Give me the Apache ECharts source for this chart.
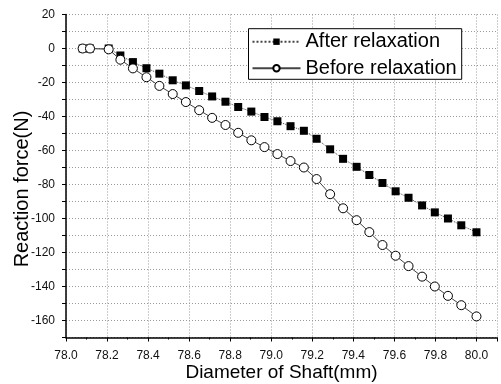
<!DOCTYPE html>
<html>
<head>
<meta charset="utf-8">
<script src="https://cdn.jsdelivr.net/npm/echarts@6/dist/echarts.min.js"></script>
<style>
html,body{margin:0;padding:0;background:#fff;}
#chart{width:501px;height:384px;}
</style>
</head>
<body>
<div id="chart"></div>
<script>
// Diameter of shaft (mm), shared by both series
var diameters = [78.081, 78.117, 78.208, 78.265, 78.326, 78.392, 78.455, 78.520, 78.584, 78.649,
  78.712, 78.777, 78.839, 78.903, 78.967, 79.030, 79.094, 79.159, 79.221, 79.287,
  79.350, 79.416, 79.478, 79.542, 79.606, 79.669, 79.735, 79.797, 79.861, 79.926, 80.000];
// Reaction force (N) after relaxation
var afterValues = [0, 0, 0, -4.1, -8.0, -11.6, -14.8, -18.7, -21.7, -25.0,
  -28.2, -31.3, -34.4, -37.1, -40.3, -42.8, -45.7, -48.4, -53.1, -59.3,
  -64.9, -69.6, -74.4, -79.1, -84.0, -87.8, -92.3, -96.4, -100.0, -104.0, -108.1];
// Reaction force (N) before relaxation
var beforeValues = [0, 0, -0.5, -6.6, -11.7, -16.9, -22.0, -26.8, -31.5, -36.3,
  -40.8, -45.0, -49.6, -54.0, -58.0, -62.1, -66.2, -70.0, -76.8, -85.7,
  -94.0, -101.0, -108.0, -115.6, -121.9, -128.0, -134.2, -140.0, -145.5, -151.0, -157.6];
var seriesNames = ['After relaxation', 'Before relaxation'];
var xAxisTitle = 'Diameter of Shaft(mm)';
var yAxisTitle = 'Reaction force(N)';

function pairs(xs, ys) { return xs.map(function (x, i) { return [x, ys[i]]; }); }

var font = "'Liberation Sans', Arial, sans-serif";
var gridLine = { show: true, lineStyle: { color: '#9a9a9a', type: [1, 2], width: 1 } };

var chart = echarts.init(document.getElementById('chart'), null, { renderer: 'canvas' });
chart.setOption({
  animation: false,
  backgroundColor: '#fff',
  grid: { left: 66, right: 4, top: 14.5, bottom: 46.5, containLabel: false, outerBoundsMode: 'none' },
  legend: {
    orient: 'vertical',
    left: 248.5,
    top: 28.7,
    padding: [3, 5, 1, 3],
    itemGap: 6.6,
    itemWidth: 48,
    itemHeight: 8,
    backgroundColor: '#fff',
    borderColor: '#000',
    borderWidth: 1,
    textStyle: { fontFamily: font, fontSize: 20, lineHeight: 20, color: '#000' },
    data: seriesNames
  },
  xAxis: {
    type: 'value',
    min: 78, max: 80.1, interval: 0.2,
    name: xAxisTitle,
    nameLocation: 'middle',
    nameGap: 26,
    nameMoveOverlap: false,
    nameTextStyle: { fontFamily: font, fontSize: 19, color: '#000' },
    axisLine: { show: true, onZero: false, lineStyle: { color: '#000', width: 1.5 } },
    axisTick: { show: true, inside: false, length: 4, lineStyle: { color: '#000', width: 1 } },
    minorTick: { show: true, splitNumber: 2, length: 2, lineStyle: { color: '#000' } },
    axisLabel: {
      showMaxLabel: false, margin: 12, fontFamily: font, fontSize: 12, color: '#111',
      formatter: function (v) { return v > 80.05 ? '' : v.toFixed(1); }
    },
    splitLine: gridLine
  },
  yAxis: {
    type: 'value',
    min: -170, max: 20, interval: 10,
    name: yAxisTitle,
    nameLocation: 'middle',
    nameGap: 34,
    nameMoveOverlap: false,
    nameTextStyle: { fontFamily: font, fontSize: 20, color: '#000', padding: [0, 26, 0, 0] },
    axisLine: { show: true, onZero: false, lineStyle: { color: '#000', width: 1.5 } },
    axisTick: { show: true, inside: false, length: 4, lineStyle: { color: '#000', width: 1 } },
    axisLabel: {
      margin: 11, fontFamily: font, fontSize: 12, color: '#111',
      formatter: function (v) { return (Math.round(v) % 20 === 0) ? String(Math.round(v)) : ''; }
    },
    splitLine: gridLine
  },
  series: [
    {
      name: seriesNames[0],
      type: 'line',
      data: pairs(diameters, afterValues),
      symbol: 'rect',
      symbolSize: 8,
      showAllSymbol: true,
      itemStyle: { color: '#000' },
      lineStyle: { color: '#444', width: 1, type: 'dotted' },
      z: 2
    },
    {
      name: seriesNames[1],
      type: 'line',
      data: pairs(diameters, beforeValues),
      symbol: 'circle',
      symbolSize: 9,
      showAllSymbol: true,
      itemStyle: { color: '#fff', borderColor: '#000', borderWidth: 1 },
      lineStyle: { color: '#444', width: 1 },
      z: 3
    }
  ]
});
</script>
</body>
</html>
